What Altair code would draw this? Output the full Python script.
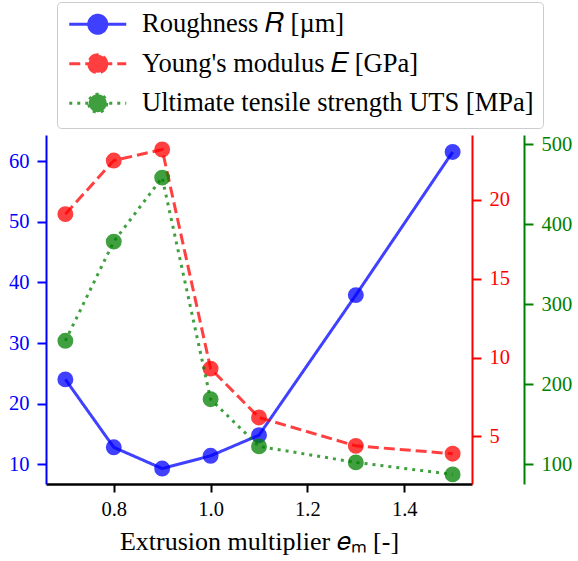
import altair as alt
import pandas as pd

# ---- data ----
em = [0.7, 0.8, 0.9, 1.0, 1.1, 1.3, 1.5]
roughness = [24.0, 12.8, 9.3, 11.4, 14.8, 37.9, 61.5]
youngs = [19.1, 22.5, 23.2, 9.3, 6.2, 4.4, 3.9]
uts = [254, 378, 458, 181, 122, 102, 87]

names = ["Roughness 𝑅 [µm]", "Young's modulus 𝐸 [GPa]", "Ultimate tensile strength UTS [MPa]"]
colors = ["blue", "red", "green"]
dashes = [[1, 0], [11, 5], [3, 5]]

x_ticks = [0.8, 1.0, 1.2, 1.4]
r_ticks = [10, 20, 30, 40, 50, 60]
e_ticks = [5, 10, 15, 20]
u_ticks = [100, 200, 300, 400, 500]

FONT = "Liberation Serif"

def frame(vals, name):
    return pd.DataFrame({"em": em, "v": vals, "series": name})

x_enc = alt.X(
    "em:Q",
    scale=alt.Scale(domain=[0.66, 1.54], nice=False, zero=False),
    axis=alt.Axis(
        values=x_ticks, format=".1f", title="Extrusion multiplier 𝑒ₘ [-]",
        domainColor="black", tickColor="black", labelColor="black", titleColor="black",
        domainWidth=2.5, tickWidth=2, tickSize=8, labelPadding=7,
        labelFontSize=20.5, titleFontSize=26, titleFontWeight="normal",
        titlePadding=9, grid=False,
    ),
)

# legend symbol: line (half-width 28.5 px) with a 9 px circle; path units = 10 px
legend = alt.Legend(
    title=None, orient="none", legendX=11, legendY=-133,
    symbolType="M-2.85,0L2.85,0M0.9,0A0.9,0.9,0,1,1,-0.9,0A0.9,0.9,0,1,1,0.9,0Z",
    symbolSize=400, symbolStrokeWidth=3, symbolOpacity=0.75, symbolOffset=18.5,
    labelFontSize=26.5, labelFont=FONT, labelLimit=0, labelOffset=31,
    rowPadding=8.5, padding=9, fillColor="white", strokeColor="#cccccc",
    cornerRadius=4,
)
color_enc = alt.Color("series:N", scale=alt.Scale(domain=names, range=colors), legend=legend)
dash_enc = alt.StrokeDash("series:N", scale=alt.Scale(domain=names, range=dashes), legend=legend)

def series_layer(vals, name, color, domain, ticks, orient, offset):
    y_axis = alt.Axis(
        values=ticks, format="d", title=None, orient=orient, offset=offset,
        domainColor=color, tickColor=color, labelColor=color,
        domainWidth=2, tickWidth=2, tickSize=9, labelPadding=8,
        labelFontSize=20.5, grid=False,
    )
    y_enc = alt.Y("v:Q", scale=alt.Scale(domain=domain, nice=False, zero=False), axis=y_axis)
    base = alt.Chart(frame(vals, name))
    line = base.mark_line(strokeWidth=3, opacity=0.75).encode(
        x=x_enc, y=y_enc, color=color_enc, strokeDash=dash_enc
    )
    pts = base.mark_circle(size=254, opacity=0.75).encode(x=x_enc, y=y_enc, color=color_enc)
    return alt.layer(line, pts)

blue = series_layer(roughness, names[0], "blue", [6.75, 64.3], r_ticks, "left", 0)
red = series_layer(youngs, names[1], "red", [1.98, 24.12], e_ticks, "right", 0)
green = series_layer(uts, names[2], "green", [75, 511.25], u_ticks, "right", 52)

chart = (
    alt.layer(blue, red, green)
    .resolve_scale(y="independent")
    .properties(
        width=426, height=349,
        autosize=alt.AutoSizeParams(type="none"),
        padding={"left": 46, "top": 135, "right": 106, "bottom": 77},
    )
    .configure_view(stroke=None)
    .configure_axis(labelFont=FONT, titleFont=FONT)
    .configure_legend(labelFont=FONT)
)

chart.save("out.html", embed_options={"renderer": "svg", "actions": False})
